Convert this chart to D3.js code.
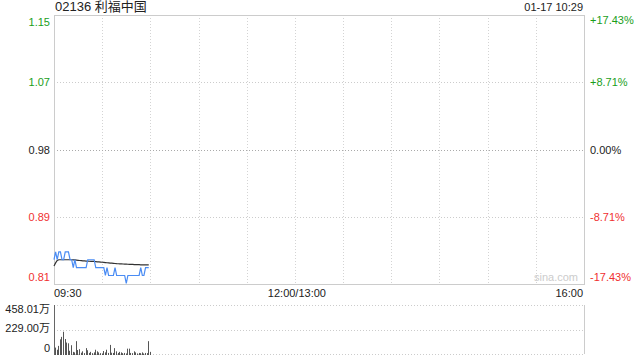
<!DOCTYPE html>
<html>
<head>
<meta charset="utf-8">
<script src="https://d3js.org/d3.v7.min.js"></script>
<style>
  body { margin: 0; background: #fff; }
  text { font-family: "Liberation Sans", Arial, "Noto Sans CJK SC", sans-serif; font-size: 11px; }
</style>
</head>
<body>
<div id="chart"></div>
<script>
// --- data ---
title = "02136 利福中国"
stamp = "01-17 10:29"
prevClose = 0.98
pctTicks = [-0.1743, -0.0871, 0, 0.0871, 0.1743]
pctLabels = ["-17.43%", "-8.71%", "0.00%", "+8.71%", "+17.43%"]
timeLabels = ["09:30", "12:00/13:00", "16:00"]
timeMinutes = [0, 150, 330]
volTicks = [0, 229.00, 458.01]
volLabels = ["0", "229.00万", "458.01万"]

// one value per minute, 09:30 .. 10:29
price = [0.84,0.85,0.84,0.85,0.85,0.84,0.84,0.85,0.85,0.85,
         0.84,0.84,0.83,0.84,0.83,0.83,0.83,0.83,0.83,0.83,
         0.83,0.84,0.84,0.84,0.84,0.84,0.83,0.83,0.83,0.83,
         0.83,0.83,0.82,0.83,0.82,0.82,0.82,0.82,0.83,0.82,
         0.82,0.82,0.82,0.82,0.82,0.81,0.82,0.82,0.82,0.82,
         0.82,0.82,0.82,0.82,0.83,0.82,0.82,0.83,0.83,0.83]
avgPrice = [0.832,0.836,0.839,0.840,0.840,0.840,0.840,0.840,0.840,0.840,
            0.840,0.840,0.8398,0.8397,0.8395,0.8393,0.839,0.8388,0.8386,0.8385,
            0.8383,0.8382,0.8381,0.838,0.8379,0.8378,0.8376,0.8374,0.8372,0.837,
            0.8368,0.8366,0.8364,0.8362,0.836,0.8358,0.8356,0.8354,0.8352,0.835,
            0.8349,0.8348,0.8347,0.8346,0.8345,0.8344,0.8343,0.8342,0.8341,0.834,
            0.8339,0.8338,0.8337,0.8337,0.8336,0.8336,0.8335,0.8335,0.8335,0.8335]
volume = [60,40,76,137,160,208,140,107,100,30,
          82,20,15,120,37,45,12,25,8,55,
          35,10,20,8,15,40,25,15,8,5,
          28,15,40,10,85,12,10,55,25,10,
          20,15,8,10,5,50,50,10,8,25,
          15,5,10,8,15,5,10,8,120,20]

// --- layout ---
width = 640
height = 360
left = 54, right = 584
pTop = 15, pBot = 284
vTop = 305, vBot = 354

svg = d3.select('#chart').append('svg')
  .attr('width', width).attr('height', height)

x = d3.scaleLinear().domain([0, 330]).range([left, right])
y = d3.scaleLinear()
  .domain([prevClose * (1 + pctTicks[0]), prevClose * (1 + pctTicks[4])])
  .range([pBot, pTop])
yv = d3.scaleLinear().domain([0, 458.01]).range([vBot, vTop])

colorOf = function(p) { return p > 0 ? '#1a9e1a' : (p < 0 ? '#f03030' : '#222') }

// grid: vertical half-hour lines
svg.append('g').selectAll('line')
  .data(d3.range(30, 330, 30))
  .enter().append('line')
  .attr('x1', d => Math.round(x(d)) + 0.5).attr('x2', d => Math.round(x(d)) + 0.5)
  .attr('y1', pTop).attr('y2', pBot)
  .attr('stroke', '#d4d4d4').attr('stroke-dasharray', '1,2')

// grid: horizontal lines
svg.append('g').selectAll('line')
  .data(pctTicks.slice(1, 4))
  .enter().append('line')
  .attr('x1', left).attr('x2', right)
  .attr('y1', d => Math.round(y(prevClose * (1 + d))) + 0.5)
  .attr('y2', d => Math.round(y(prevClose * (1 + d))) + 0.5)
  .attr('stroke', d => d == 0 ? '#aaa' : '#ccc').attr('stroke-dasharray', '1,2')

// price frame
svg.append('rect')
  .attr('x', left + 0.5).attr('y', pTop + 0.5)
  .attr('width', right - left).attr('height', pBot - pTop)
  .attr('fill', 'none').attr('stroke', '#ccc')

// watermark
svg.append('text').attr('x', right - 6).attr('y', pBot - 3)
  .attr('text-anchor', 'end').attr('fill', '#ccc').text('sina.com')

// left price labels
svg.append('g').selectAll('text')
  .data(pctTicks).enter().append('text')
  .attr('x', left - 4)
  .attr('y', (d, i) => i == 0 ? pBot - 3 : (i == 4 ? pTop + 11 : y(prevClose * (1 + d)) + 4))
  .attr('text-anchor', 'end')
  .attr('fill', d => colorOf(d))
  .text(d => d3.format('.2f')(prevClose * (1 + d)))

// right pct labels
svg.append('g').selectAll('text')
  .data(pctTicks).enter().append('text')
  .attr('x', right + 6)
  .attr('y', (d, i) => i == 0 ? pBot - 3 : (i == 4 ? pTop + 9 : y(prevClose * (1 + d)) + 4))
  .attr('fill', d => colorOf(d))
  .text((d, i) => pctLabels[i])

// title + time stamp
svg.append('text').attr('x', left + 1).attr('y', 11).style('font-size', '13px')
  .attr('fill', '#222').text(title)
svg.append('text').attr('x', right - 1).attr('y', 11).attr('text-anchor', 'end')
  .attr('fill', '#222').text(stamp)

// time axis labels
svg.append('g').selectAll('text')
  .data(timeLabels).enter().append('text')
  .attr('x', (d, i) => x(timeMinutes[i]) + (i == 0 ? 0 : (i == 2 ? -1 : 2)))
  .attr('y', 297)
  .attr('text-anchor', (d, i) => i == 0 ? 'start' : (i == 2 ? 'end' : 'middle'))
  .attr('fill', '#222')
  .text(d => d)

// price lines
line = d3.line().x((d, i) => x(i)).y(d => y(d))
svg.append('path').datum(avgPrice).attr('d', line)
  .attr('fill', 'none').attr('stroke', '#333').attr('stroke-width', 1.2)
svg.append('path').datum(price).attr('d', line)
  .attr('fill', 'none').attr('stroke', '#4a8cf4').attr('stroke-width', 1.2)

// volume panel
svg.append('g').selectAll('line')
  .data(volTicks).enter().append('line')
  .attr('x1', left).attr('x2', right)
  .attr('y1', d => Math.round(yv(d)) + 0.5).attr('y2', d => Math.round(yv(d)) + 0.5)
  .attr('stroke', '#ccc').attr('stroke-dasharray', '1,2')
svg.append('line').attr('x1', right + 0.5).attr('x2', right + 0.5)
  .attr('y1', vTop).attr('y2', vBot).attr('stroke', '#ccc')
svg.append('line').attr('x1', left + 0.5).attr('x2', left + 0.5)
  .attr('y1', vTop).attr('y2', vBot + 1).attr('stroke', '#666')

svg.append('g').selectAll('rect')
  .data(volume).enter().append('rect')
  .attr('x', (d, i) => Math.round(x(i)) + 1)
  .attr('y', d => yv(d))
  .attr('width', 1)
  .attr('height', d => vBot - yv(d) + 1)
  .attr('fill', '#555')

svg.append('g').selectAll('text')
  .data(volTicks).enter().append('text')
  .attr('x', left - 4)
  .attr('y', (d, i) => i == 0 ? vBot - 2 : (i == 2 ? vTop + 8 : yv(d) + 2))
  .attr('text-anchor', 'end').attr('fill', '#222')
  .text((d, i) => volLabels[i])
</script>
</body>
</html>
